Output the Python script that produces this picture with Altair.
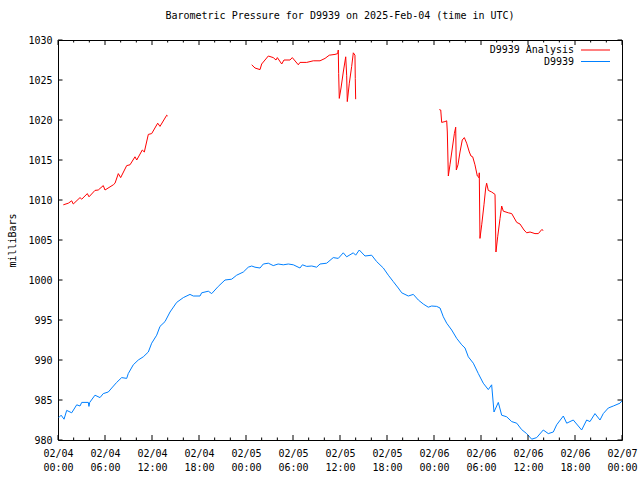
import altair as alt
import pandas as pd

FONT = "DejaVu Sans Mono"
TITLE = "Barometric Pressure for D9939 on 2025-Feb-04 (time in UTC)"
Y_TITLE = "milliBars"
SERIES = ["D9939 Analysis", "D9939"]
COLORS = ["#ff0000", "#0080ff"]

# hours since 2025-02-04 00:00 UTC, pressure in mb
blue_h = [0.1, 0.4, 0.77, 1.11, 1.75, 2.39, 2.81, 3.03, 3.87, 3.95, 4.05, 4.72, 5.36, 5.78,
          6.42, 6.86, 7.49, 8.13, 8.77, 8.97, 9.61, 10.25, 10.89, 11.53, 11.96, 12.60, 13.02,
          13.66, 14.30, 15.15, 16.00, 16.85, 17.27, 18.13, 18.34, 19.19, 19.62, 20.46, 21.32,
          22.17, 22.81, 23.66, 24.29, 24.73, 25.15, 25.79, 26.21, 26.85, 27.48, 28.1, 28.76,
          29.4, 30.04, 30.89, 31.2, 31.75, 32.4, 33.02, 33.45, 34.30, 35.14, 35.78, 36.42,
          36.85, 37.70, 38.0, 38.46, 39.19, 40.04, 40.68, 41.53, 42.17, 42.80, 43.44, 43.88,
          44.72, 45.36, 46.00, 46.63, 47.27, 47.70, 48.34, 48.77, 49.19, 49.62, 50.26, 50.90,
          51.54, 51.96, 52.38, 53.02, 53.66, 54.29, 54.93, 55.36, 55.66, 56.21, 56.64, 57.28,
          57.92, 58.56, 59.19, 59.83, 60.47, 61.11, 61.95, 62.59, 63.23, 63.66, 64.51, 64.94,
          65.78, 66.85, 67.49, 67.91, 68.55, 69.19, 69.61, 70.25, 70.89, 71.74, 72.0]
blue_v = [982.8, 983.1, 982.6, 983.7, 983.4, 984.4, 984.25, 984.7, 984.7, 984.2, 984.7, 985.6,
          985.3, 985.8, 986.0, 986.5, 987.2, 987.8, 987.7, 988.3, 989.4, 990.0, 990.4, 991.0,
          992.1, 993.1, 994.2, 994.8, 996.0, 997.2, 997.8, 998.2, 998.0, 998.0, 998.4, 998.6,
          998.3, 999.2, 1000.0, 1000.1, 1000.6, 1001.0, 1001.6, 1001.75, 1001.6, 1001.5,
          1002.0, 1002.1, 1001.8, 1002.0, 1001.9, 1002.0, 1001.9, 1001.5, 1001.9, 1001.7,
          1001.75, 1001.6, 1002.0, 1002.1, 1002.8, 1002.7, 1003.4, 1002.9, 1003.4, 1003.1,
          1003.75, 1003.0, 1003.1, 1002.3, 1001.5, 1000.6, 999.8, 999.0, 998.4, 998.0, 998.2,
          997.5, 997.0, 996.6, 996.75, 996.7, 996.5, 995.4, 994.6, 993.75, 992.7, 991.9,
          991.5, 990.4, 989.6, 988.3, 987.1, 986.3, 986.9, 983.5, 984.7, 983.1, 982.9, 982.3,
          982.1, 981.3, 980.8, 980.1, 980.3, 981.25, 980.8, 981.0, 981.9, 983.0, 982.1, 982.5,
          981.25, 982.5, 982.3, 983.3, 982.5, 983.3, 984.0, 984.25, 984.6, 984.9]

red1_h = [0.68, 1.32, 1.75, 1.95, 2.81, 3.03, 3.74, 3.96, 4.72, 5.14, 5.78, 6.00, 7.06, 7.28,
          7.70, 8.00, 8.77, 9.19, 9.83, 10.05, 10.76, 11.02, 11.53, 11.96, 12.73, 13.02, 13.88,
          14.00]
red1_v = [1009.4, 1009.6, 1009.9, 1009.5, 1010.3, 1010.1, 1010.8, 1010.4, 1011.2, 1011.25,
          1011.8, 1011.25, 1011.9, 1012.1, 1013.3, 1012.8, 1014.3, 1014.4, 1015.4, 1015.0,
          1016.25, 1016.0, 1018.2, 1018.3, 1019.6, 1019.2, 1020.6, 1020.5]

red2_h = [24.73, 25.15, 25.79, 26.00, 26.85, 27.48, 27.83, 28.00, 28.56, 28.85, 29.62, 29.91,
          30.68, 30.89, 31.75, 32.59, 33.45, 34.09, 34.63, 35.36, 35.71, 35.78, 35.83, 35.91,
          36.13, 36.42, 36.73, 36.85, 36.93, 37.19, 37.49, 37.70, 37.91, 37.95, 38.00]
red2_v = [1026.9, 1026.5, 1026.3, 1027.0, 1028.0, 1027.8, 1027.5, 1027.8, 1027.0, 1027.5,
          1027.5, 1027.8, 1026.9, 1027.2, 1027.2, 1027.4, 1027.4, 1027.7, 1028.1, 1028.2,
          1028.3, 1028.75, 1025.8, 1022.7, 1024.0, 1026.0, 1027.9, 1025.6, 1022.3, 1024.6,
          1026.7, 1028.4, 1028.1, 1025.2, 1022.6]

red3_h = [48.68, 48.86, 48.98, 49.40, 49.62, 49.70, 49.83, 50.04, 50.34, 50.60, 50.77, 50.85,
          51.06, 51.32, 51.61, 51.87, 52.17, 52.51, 52.72, 52.94, 53.23, 53.53, 53.74, 53.78,
          53.87, 54.09, 54.38, 54.60, 54.72, 54.93, 55.36, 55.79, 55.91, 56.13, 56.43, 56.64,
          56.85, 57.49, 57.92, 58.56, 58.98, 59.49, 59.83, 60.26, 60.89, 61.32, 61.75, 61.95]
red3_v = [1021.3, 1021.25, 1019.7, 1019.8, 1019.9, 1018.5, 1013.0, 1014.4, 1016.5, 1018.3,
          1019.1, 1013.75, 1014.4, 1016.0, 1017.5, 1017.8, 1017.1, 1016.0, 1015.5, 1015.4,
          1014.4, 1013.0, 1012.8, 1013.4, 1005.2, 1006.9, 1009.4, 1011.5, 1012.1, 1011.2,
          1011.0, 1010.7, 1003.5, 1005.4, 1007.7, 1009.25, 1008.6, 1008.4, 1008.3, 1007.2,
          1007.0, 1006.25, 1005.9, 1006.0, 1005.8, 1005.8, 1006.3, 1006.2]

Y_TICKS = [980, 985, 990, 995, 1000, 1005, 1010, 1015, 1020, 1025, 1030]
X_MAJOR_H = [0, 6, 12, 18, 24, 30, 36, 42, 48, 54, 60, 66, 72]
X_MINOR_H = [2, 4, 8, 10, 14, 16, 20, 22, 26, 28, 32, 34, 38, 40, 44, 46, 50, 52, 56, 58,
             62, 64, 68, 70]

BASE = pd.Timestamp("2025-02-04 00:00", tz="UTC")


def to_time(hours):
    return [(BASE + pd.Timedelta(hours=h)).strftime("%Y-%m-%dT%H:%M:%SZ") for h in hours]


frames = []
for seg, (hs, vs, name) in enumerate([(red1_h, red1_v, SERIES[0]), (red2_h, red2_v, SERIES[0]),
                                      (red3_h, red3_v, SERIES[0]), (blue_h, blue_v, SERIES[1])]):
    frames.append(pd.DataFrame({"time": to_time(hs), "value": vs, "series": name, "seg": seg}))
df = pd.concat(frames, ignore_index=True)

W, H = 564, 400

xscale = alt.Scale(type="utc", domain=[to_time([0])[0], to_time([72])[0]], nice=False)
yscale = alt.Scale(domain=[980, 1030], nice=False, zero=False)

x_vals = [alt.DateTime(year=2025, month=2, date=4 + h // 24, hours=h % 24, utc=True)
          for h in X_MAJOR_H]

xaxis = alt.Axis(
    title=None, values=x_vals, ticks=False, domain=False, grid=False,
    labelExpr="[utcFormat(datum.value, '%m/%d'), utcFormat(datum.value, '%H:%M')]",
    labelFont=FONT, labelFontSize=10, labelColor="black", labelPadding=8,
    labelBaseline="top", labelLineHeight=14, labelOverlap=False, labelFlush=False,
    labelBound=False, labelAngle=0, labelAlign="center")
yaxis = alt.Axis(
    title=Y_TITLE, values=Y_TICKS, format="d", ticks=False, domain=False, grid=False,
    labelFont=FONT, labelFontSize=10, labelColor="black", labelPadding=6,
    labelOverlap=False, labelFlush=False, labelBound=False,
    titleFont=FONT, titleFontSize=10, titleFontWeight="normal", titleColor="black",
    titleX=-46, titleY=H / 2, titleAngle=270, titleAlign="center",
    titleBaseline="middle")

X = alt.X("time:T", scale=xscale, axis=xaxis)
Y = alt.Y("value:Q", scale=yscale, axis=yaxis)

lines = alt.Chart(df).mark_line(strokeWidth=1, clip=True).encode(
    x=X, y=Y,
    color=alt.Color("series:N", scale=alt.Scale(domain=SERIES, range=COLORS), legend=None),
    detail="seg:N",
)

major_df = pd.DataFrame({"time": to_time(X_MAJOR_H)})
minor_df = pd.DataFrame({"time": to_time(X_MINOR_H)})
ytick_df = pd.DataFrame({"value": Y_TICKS})

tick_layers = []
for d, ln in [(major_df, 5), (minor_df, 2.5)]:
    tick_layers.append(alt.Chart(d).mark_rule(color="black", strokeWidth=1).encode(
        x=X, y=alt.value(H), y2=alt.value(H - ln)))
    tick_layers.append(alt.Chart(d).mark_rule(color="black", strokeWidth=1).encode(
        x=X, y=alt.value(0), y2=alt.value(ln)))
tick_layers.append(alt.Chart(ytick_df).mark_rule(color="black", strokeWidth=1).encode(
    y=Y, x=alt.value(0), x2=alt.value(4.5)))
tick_layers.append(alt.Chart(ytick_df).mark_rule(color="black", strokeWidth=1).encode(
    y=Y, x=alt.value(W), x2=alt.value(W - 4.5)))

legend_layers = []
for i, (name, col) in enumerate(zip(SERIES, COLORS)):
    ly = 10 + 11.5 * i
    ldf = pd.DataFrame({"name": [name]})
    legend_layers.append(alt.Chart(ldf).mark_text(
        align="right", baseline="middle", font=FONT, fontSize=10, color="black").encode(
        x=alt.value(516), y=alt.value(ly), text="name:N"))
    legend_layers.append(alt.Chart(ldf).mark_rule(color=col, strokeWidth=1).encode(
        x=alt.value(523), x2=alt.value(552), y=alt.value(ly)))

chart = alt.layer(lines, *tick_layers, *legend_layers).properties(
    width=W, height=H,
    title=alt.TitleParams(TITLE, font=FONT, fontSize=10, fontWeight="normal", color="black",
                          anchor="middle", offset=14),
    autosize=alt.AutoSizeParams(type="none"),
    padding={"left": 58, "top": 40, "right": 18, "bottom": 40},
    background="white",
).configure_view(stroke="black", strokeWidth=1)

chart.save("out.html", embed_options={"renderer": "svg", "actions": False})
